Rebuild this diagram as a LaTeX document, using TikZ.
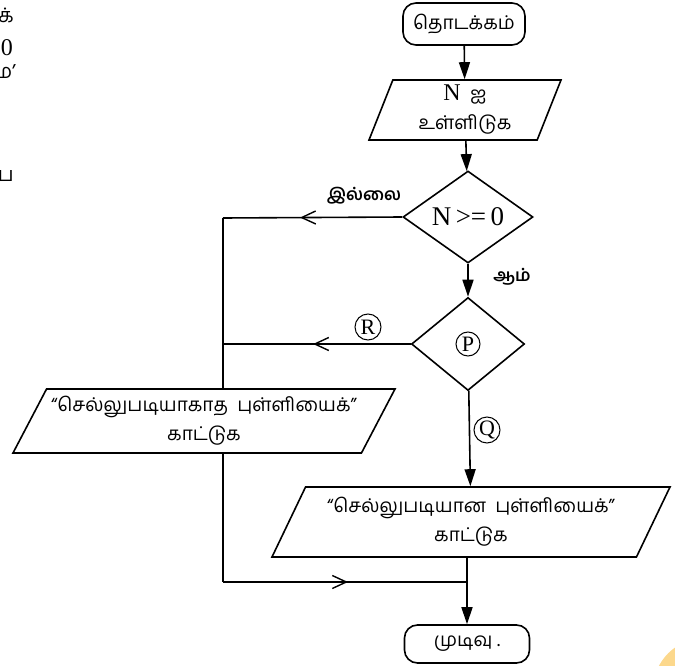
\documentclass[tikz,border=0pt]{standalone}
\usepackage{fontspec}
\setmainfont{Liberation Serif}
\newfontfamily\tamil[Script=Tamil]{Hind Madurai}
\usetikzlibrary{arrows.meta,shapes.geometric,decorations.markings}
\definecolor{pagetab}{RGB}{252,216,140}
\tikzset{>={Triangle[length=17pt,width=11pt]}}
\tikzset{
	term/.style={draw, line width=1.6pt, rounded corners=13pt,
			minimum width=122pt, minimum height=42pt,
			font=\tamil\fontsize{19}{22}\selectfont},
	io/.style={draw, line width=1.6pt, trapezium, trapezium stretches body,
			trapezium left angle=#1, trapezium right angle=180-#1,
			align=center, font=\tamil\fontsize{19}{29}\selectfont},
	decide/.style={draw, line width=1.6pt, diamond, inner sep=0pt},
	circled/.style={draw, circle, line width=1pt, minimum size=26pt,
			inner sep=0pt, font=\fontsize{22}{22}\selectfont},
	lbl/.style={font=\tamil\bfseries\fontsize{17}{20}\selectfont},
	flow/.style={line width=1.6pt},
	midarrow/.style={postaction={decorate}, decoration={markings,
					mark=at position #1 with {\arrow{Straight Barb[length=14pt,width=13pt,line width=1.4pt]}}}}
}

\begin{document}
\begin{tikzpicture}[x=1pt,y=-1pt]
	\useasboundingbox (0,0) rectangle (675,666);

	% bits of the page text cut off at the left edge
	\node[anchor=east, inner sep=0pt, font=\tamil\fontsize{20}{20}\selectfont] (cutA) at (14,15) {க்};
	\node[anchor=east, inner sep=0pt, font=\fontsize{24}{24}\selectfont] (cutB) at (13,48) {0};
	\node[anchor=east, inner sep=0pt, font=\tamil\fontsize{20}{20}\selectfont] (cutC) at (16,72) {ம’};
	\node[anchor=east, inner sep=0pt, font=\tamil\fontsize{20}{20}\selectfont] (cutD) at (14,176) {ப};
	\fill[pagetab] (705,690) circle (52);

	\node[term] (start) at (464,24) {தொடக்கம்};
	\node[io=67, minimum width=192pt, minimum height=60pt] (input) at (465,110)
	{{\rmfamily\fontsize{24}{24}\selectfont N}\ \ ஐ\\உள்ளிடுக};
	\node[decide, minimum width=130pt, minimum height=92pt] (d1) at (468,217)
	{\fontsize{27}{27}\selectfont N\,>=\,0};
	\node[decide, minimum width=113pt, minimum height=93pt] (d2) at (468,344) {};
	\node[circled, minimum size=24pt] (p) at (d2) {P};
	\node[io=59, minimum width=382pt, minimum height=64pt] (bad) at (204,421)
	{“செல்லுபடியாகாத\ \ புள்ளியைக்”\\காட்டுக};
	\node[io=59, minimum width=398pt, minimum height=70pt] (good) at (471,522)
	{“செல்லுபடியான\ \ புள்ளியைக்”\\காட்டுக};
	\node[term, minimum width=125pt, minimum height=38pt] (stop) at (467,644) {முடிவு .};

	\node[lbl] (no) at (364,196) {இல்லை};
	\node[lbl] (yes) at (512,277) {ஆம்};
	\node[circled] (r) at (368,327) {R};
	\node[circled] (q) at (487,430) {Q};

	\coordinate (nl) at (223,218);
	\coordinate (rl) at (223,344);
	\coordinate (bl) at (223,582);
	\coordinate (jn) at (468,582);

	\draw[flow,->] (start) -- (input);
	\draw[flow,->] (input) -- (d1);
	\draw[flow,->] (d1) -- (d2);
	\draw[flow,->] (d2) -- (good);
	\draw[flow,->] (stop.north |- good.south) -- (stop);

	\draw[flow, midarrow=0.57] (d1.west) -- (nl);
	\draw[flow, midarrow=0.52] (d2.west) -- (rl);
	\draw[flow] (nl) -- (nl |- bad.north);
	\draw[flow] (nl |- bad.south) -- (bl);
	\draw[flow, midarrow=0.51] (bl) -- (jn);
\end{tikzpicture}
\end{document}
